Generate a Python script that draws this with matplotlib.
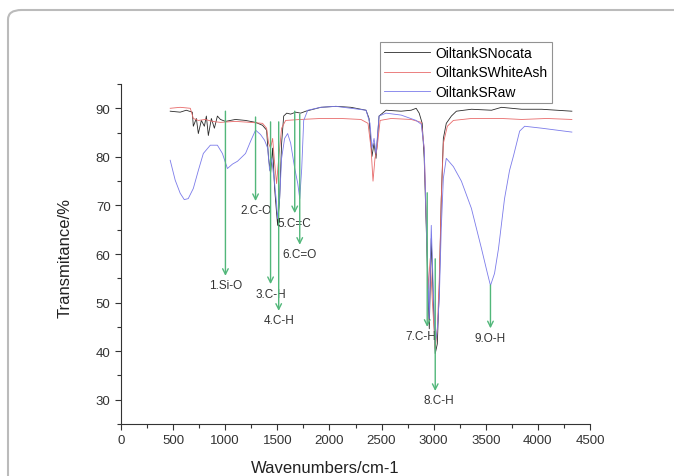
import matplotlib
matplotlib.use("Agg")
import matplotlib.pyplot as plt
from matplotlib.patches import FancyBboxPatch
from matplotlib.ticker import MultipleLocator

plt.rcParams["font.family"] = ["Liberation Sans", "DejaVu Sans"]

# spectra (wavenumber, transmittance)
nocata_wn = [472, 568, 626, 684, 694, 723, 742, 771, 800, 819, 838, 867, 896, 925, 954,
             1002, 1098, 1195, 1291, 1358, 1397, 1416, 1435, 1455, 1474, 1493, 1503, 1522,
             1541, 1561, 1590, 1628, 1676, 1724, 1773, 1917, 2062, 2206, 2351, 2380, 2408,
             2428, 2447, 2476, 2543, 2688, 2784, 2832, 2861, 2890, 2909, 2929, 2948, 2958,
             2977, 2996, 3015, 3035, 3054, 3073, 3093, 3121, 3170, 3218, 3362, 3555, 3651,
             3748, 3844, 4037, 4181, 4326]
nocata_t = [89.4, 89.2, 89.6, 89.2, 86.3, 87.9, 84.8, 87.5, 86.3, 88.4, 84.4, 87.9, 85.9,
            88.4, 87.7, 87.3, 87.7, 87.5, 87.1, 86.5, 85.5, 79.7, 76.6, 81.8, 73.5, 68.4,
            65.9, 71.4, 82.8, 88.4, 89.0, 88.8, 89.2, 89.0, 89.4, 90.2, 90.4, 90.2, 89.6,
            87.9, 80.1, 82.8, 79.7, 88.4, 89.6, 89.4, 89.6, 90.0, 89.0, 86.9, 79.7, 65.3,
            50.8, 44.6, 63.2, 50.8, 39.5, 41.5, 52.9, 71.4, 83.8, 86.9, 88.4, 89.4, 89.8,
            89.6, 90.2, 90.0, 89.8, 89.8, 89.6, 89.4]

whiteash_wn = [472, 568, 665, 694, 742, 809, 877, 954, 1098, 1243, 1358, 1397, 1416, 1435,
               1455, 1474, 1493, 1513, 1541, 1580, 1724, 1917, 2110, 2302, 2370, 2399, 2418,
               2437, 2457, 2486, 2592, 2784, 2881, 2909, 2929, 2948, 2967, 2986, 3015, 3035,
               3054, 3073, 3093, 3131, 3189, 3362, 3651, 3844, 4085, 4326]
whiteash_t = [90.0, 90.2, 90.0, 87.9, 87.5, 87.7, 87.3, 87.1, 87.3, 87.1, 86.9, 85.9, 82.8,
              81.8, 83.8, 78.7, 74.5, 79.7, 85.9, 87.5, 87.7, 87.9, 87.9, 87.7, 86.9, 81.8,
              75.0, 79.7, 81.8, 87.5, 87.9, 87.7, 87.1, 81.8, 67.3, 52.9, 59.1, 50.8, 40.5,
              44.6, 55.0, 71.4, 82.8, 86.3, 87.5, 87.9, 87.9, 87.7, 87.9, 87.7]

raw_wn = [472, 520, 568, 607, 645, 694, 742, 790, 857, 925, 973, 1021, 1069, 1118, 1195,
          1243, 1291, 1339, 1378, 1407, 1426, 1445, 1474, 1493, 1503, 1522, 1541, 1570,
          1599, 1628, 1667, 1696, 1715, 1734, 1753, 1792, 1917, 2062, 2206, 2351, 2389,
          2408, 2428, 2447, 2476, 2543, 2688, 2832, 2881, 2909, 2929, 2948, 2958, 2977,
          2996, 3015, 3035, 3054, 3073, 3093, 3121, 3189, 3266, 3362, 3459, 3516, 3545,
          3584, 3622, 3680, 3728, 3767, 3825, 3873, 4037, 4181, 4326]
raw_t = [79.3, 75.2, 72.5, 71.2, 71.4, 73.5, 77.2, 80.7, 82.4, 82.4, 80.7, 77.6, 78.5, 79.1,
         80.7, 83.2, 85.5, 84.6, 83.4, 81.8, 77.2, 79.7, 74.5, 70.4, 67.3, 71.4, 79.7, 83.8,
         84.8, 82.8, 77.6, 74.5, 71.4, 77.6, 87.5, 89.6, 90.2, 90.4, 90.0, 89.6, 86.9, 81.8,
         83.8, 80.7, 88.4, 89.0, 88.6, 87.5, 86.7, 81.8, 66.7, 52.9, 46.7, 65.9, 52.9, 41.5,
         44.6, 50.8, 65.3, 75.6, 79.7, 78.0, 75.0, 69.4, 61.1, 56.0, 53.5, 56.0, 61.1, 71.4,
         77.2, 80.3, 85.3, 86.3, 85.9, 85.5, 85.1]

# peak assignments: label, x, arrow start, arrow tip
peak_labels = ["1.Si-O", "2.C-O", "3.C-H", "4.C-H", "5.C=C", "6.C=O", "7.C-H", "8.C-H", "9.O-H"]
peak_x = [1002, 1291, 1435, 1513, 1667, 1715, 2938, 3015, 3545]
peak_from = [89.4, 88.2, 87.2, 87.2, 89.4, 88.8, 72.6, 59.0, 53.6]
peak_to = [55.5, 70.9, 53.8, 48.3, 68.4, 61.9, 45.0, 31.8, 44.7]
label_dx = [0, 0, 0, 0, 0, 0, -60, 30, 0]

fig = plt.figure(figsize=(6.74, 4.77), dpi=100)
ax = fig.add_axes([121 / 674, 1 - 425 / 477, (590 - 121) / 674, (425 - 85) / 477])

ax.plot(nocata_wn, nocata_t, color="#2b2b2b", lw=0.6, label="OiltankSNocata")
ax.plot(whiteash_wn, whiteash_t, color="#e86a6a", lw=0.6, label="OiltankSWhiteAsh")
ax.plot(raw_wn, raw_t, color="#7b7bea", lw=0.6, label="OiltankSRaw")

green = "#52b77a"
for lab, x, y0, y1, dx in zip(peak_labels, peak_x, peak_from, peak_to, label_dx):
    ax.annotate("", xy=(x, y1), xytext=(x, y0),
                arrowprops=dict(arrowstyle="->", color=green, lw=1.0,
                                shrinkA=0, shrinkB=0, mutation_scale=10))
    ax.text(x + dx, y1 - 0.7, lab, ha="center", va="top", fontsize=8.5, color="#333333")

ax.set_xlim(0, 4500)
ax.set_ylim(25, 95)
ax.xaxis.set_major_locator(MultipleLocator(500))
ax.xaxis.set_minor_locator(MultipleLocator(250))
ax.yaxis.set_major_locator(MultipleLocator(10))
ax.yaxis.set_minor_locator(MultipleLocator(5))
ax.set_yticks(range(30, 91, 10))
ax.spines["top"].set_visible(False)
ax.spines["right"].set_visible(False)
for s in ["left", "bottom"]:
    ax.spines[s].set_color("#333333")
    ax.spines[s].set_linewidth(0.8)
ax.tick_params(which="major", direction="out", length=4, width=0.8, labelsize=9.5,
               colors="#333333")
ax.tick_params(which="minor", direction="out", length=3, width=0.8, colors="#333333")
ax.set_xlabel("Wavenumbers/cm-1", fontsize=12, color="#222222")
ax.set_ylabel("Transmitance/%", fontsize=12, color="#222222")
ax.xaxis.set_label_coords(0.435, -0.105)
ax.yaxis.set_label_coords(-0.104, 0.49)

leg = ax.legend(loc="upper left", bbox_to_anchor=(380 / 674, 1 - 43 / 477),
                bbox_transform=fig.transFigure, fontsize=10, frameon=True,
                fancybox=False, borderpad=0.3, labelspacing=0.38, handlelength=3.3,
                handletextpad=0.4, borderaxespad=0)
leg.get_frame().set_edgecolor("#777777")
leg.get_frame().set_linewidth(0.8)

# rounded grey frame round the picture
frame = FancyBboxPatch((8 / 674, -0.2), 1.2, 1.2 - 11 / 477,
                       boxstyle="round,pad=0,rounding_size=0.02",
                       transform=fig.transFigure, fill=False,
                       edgecolor="#bbbbbb", lw=1.5)
fig.patches.append(frame)

fig.savefig("out.png", dpi=100)
